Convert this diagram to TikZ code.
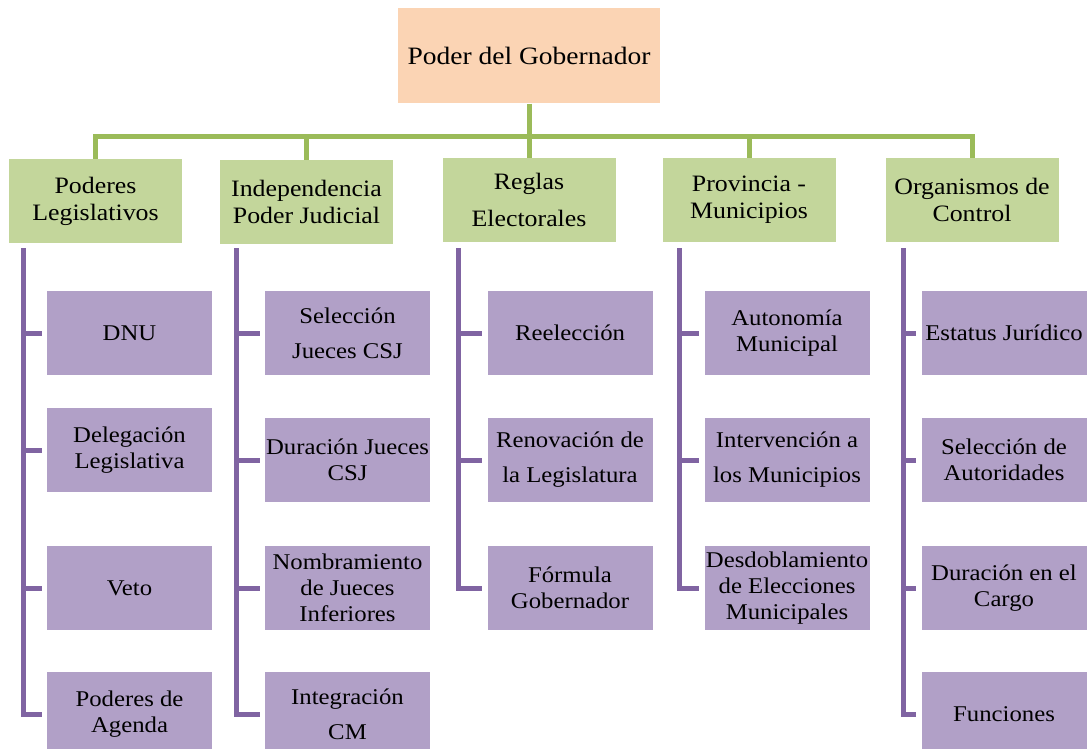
\documentclass[tikz,border=0pt]{standalone}
\usepackage{fontspec}
\setmainfont{Liberation Serif}[FakeStretch=1.1]
\usepackage{tikz}
\usepackage{xcolor}
\definecolor{durazno}{HTML}{FBD4B4}
\definecolor{verdeclaro}{HTML}{C3D69B}
\definecolor{verdeosc}{HTML}{9BBB59}
\definecolor{lila}{HTML}{B1A0C7}
\definecolor{violeta}{HTML}{8064A2}

\begin{document}
\begin{tikzpicture}[x=1pt,y=-1pt,
                    gob/.style={fill=durazno, minimum width=262pt, minimum height=95pt,
                                font=\fontsize{25}{29}\selectfont},
                    area/.style={fill=verdeclaro, minimum width=173pt, minimum height=84pt,
                                 inner sep=1pt, align=center, font=\fontsize{23.5}{27}\selectfont},
                    tema/.style={fill=lila, minimum width=165pt, minimum height=84pt,
                                 inner sep=1pt, align=center, font=\fontsize{22.5}{26}\selectfont},
                    ramaA/.style={verdeosc, line width=5pt},
                    ramaB/.style={violeta, line width=5pt, shorten >=5pt}]
                    \fill[white] (0,0) rectangle (1089,749);
                    \useasboundingbox (0,0) rectangle (1089,749);
                    \node[gob] (gob) at (529,56) {Poder del Gobernador};
                    \node[area] (a1) at (95.5,201) {Poderes\\Legislativos};
                    \node[area] (a2) at (306.5,202) {Independencia\\Poder Judicial};
                    \node[area] (a3) at (529,200) {Reglas\\[10pt]Electorales};
                    \node[area] (a4) at (749,200) {Provincia -\\Municipios};
                    \node[area] (a5) at (972,200) {Organismos de\\Control};
                    \node[tema] (t11) at (129.5,333) {DNU};
                    \node[tema] (t12) at (129.5,450) {Delegación\\Legislativa};
                    \node[tema] (t13) at (129.5,588) {Veto};
                    \node[tema] (t14) at (129.5,714) {Poderes de\\Agenda};
                    \node[tema] (t21) at (347.5,333) {Selección\\[9pt]Jueces CSJ};
                    \node[tema] (t22) at (347.5,460) {Duración Jueces\\CSJ};
                    \node[tema] (t23) at (347.5,588) {Nombramiento\\de Jueces\\Inferiores};
                    \node[tema] (t24) at (347.5,714) {Integración\\[9pt]CM};
                    \node[tema] (t31) at (570,333) {Reelección};
                    \node[tema] (t32) at (570,460) {Renovación de\\[9pt]la Legislatura};
                    \node[tema] (t33) at (570,588) {Fórmula\\Gobernador};
                    \node[tema] (t41) at (787,333) {Autonomía\\Municipal};
                    \node[tema] (t42) at (787,460) {Intervención a\\[9pt]los Municipios};
                    \node[tema] (t43) at (787,588) {Desdoblamiento\\de Elecciones\\Municipales};
                    \node[tema] (t51) at (1004,333) {Estatus Jurídico};
                    \node[tema] (t52) at (1004,460) {Selección de\\Autoridades};
                    \node[tema] (t53) at (1004,588) {Duración en el\\Cargo};
                    \node[tema] (t54) at (1004,714) {Funciones};
                    \coordinate (bus) at (529,137);
                    \draw[ramaA] (gob.south) -- (a3.north);
                    \draw[ramaA] (a1.north) |- (bus) -| (a5.north);
                    \draw[ramaA] (bus -| a2) -- (a2.north);
                    \draw[ramaA] (bus -| a4) -- (a4.north);
                    \foreach \c/\x in {1/23,2/236,3/458,4/679,5/903}
                        \coordinate (v\c) at (\x,248);
                    \foreach \c/\n in {1/4,2/4,3/3,4/3,5/4}{
                        \draw[ramaB] (v\c) |- (t\c\n.west);
                        \foreach \k in {1,...,\n}
                            \draw[ramaB] (v\c |- t\c\k) -- (t\c\k.west);
                    }
\end{tikzpicture}
\end{document}
